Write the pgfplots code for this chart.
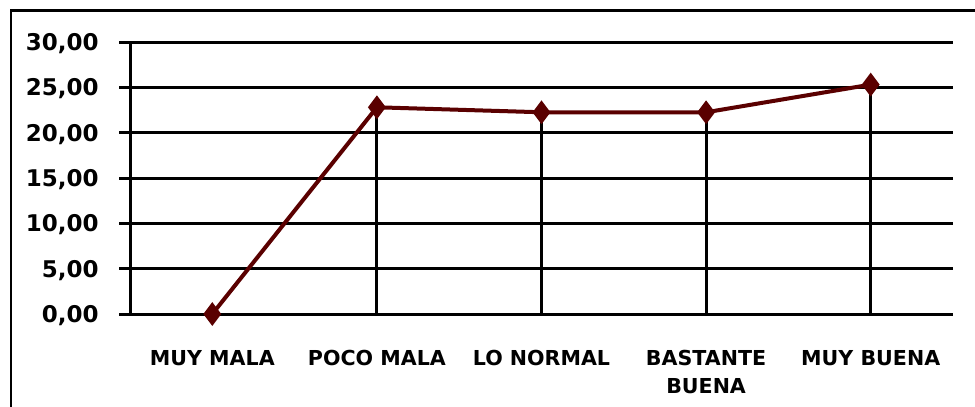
\documentclass[border=0pt]{standalone}
\usepackage{pgfplots}
\pgfplotsset{compat=1.18}
\usepackage{fontspec}
\setmainfont{DejaVu Sans}
\definecolor{linered}{RGB}{90,0,0}

\begin{document}
\begin{tikzpicture}
% 1 px of the reference = 0.5pt
\useasboundingbox (0,0) rectangle (487.5pt,-203.5pt);
\draw[line width=1.4pt] (5.5pt,-210pt) -- (5.5pt,-5.4pt) -- (495pt,-5.4pt);
\begin{axis}[
  at={(65pt,-157pt)}, anchor=south west,
  scale only axis, width=411.5pt, height=136pt,
  xmin=-0.5, xmax=4.5, ymin=0, ymax=30,
  xtick={0,1,2,3,4},
  xticklabels={MUY MALA,POCO MALA,LO NORMAL,{BASTANTE\\BUENA},MUY BUENA},
  ytick={0,5,...,30},
  axis x line*=bottom, axis y line*=left,
  axis line style={black, line width=1.5pt, -},
  ymajorgrids, grid style={black, line width=1.5pt},
  x tick style={draw=none}, major x tick style={draw=none},
  y tick style={black, line width=1.5pt},
  tick align=outside, major tick length=5.5pt,
  xticklabel style={anchor=north, inner sep=0pt, yshift=-12.5pt, align=center,
    font=\fontsize{10.3}{14}\selectfont\bfseries},
  yticklabel style={anchor=base east, inner sep=0pt, xshift=-10pt, yshift=-4.2pt,
    font=\fontsize{11.5}{13}\selectfont\bfseries,
    /pgf/number format/.cd, fixed, fixed zerofill, precision=2, use comma, assume math mode=true},
  clip=false,
]
\addplot[ycomb, black, line width=1.5pt, mark=none] coordinates {(1,22.8) (2,22.25) (3,22.25) (4,25.3)};
\addplot[linered, line width=2pt, mark=diamond*, mark size=4.3pt, mark options={fill=linered, draw=linered}]
  coordinates {(0,0) (1,22.8) (2,22.25) (3,22.25) (4,25.3)};
\end{axis}
\end{tikzpicture}
\end{document}
